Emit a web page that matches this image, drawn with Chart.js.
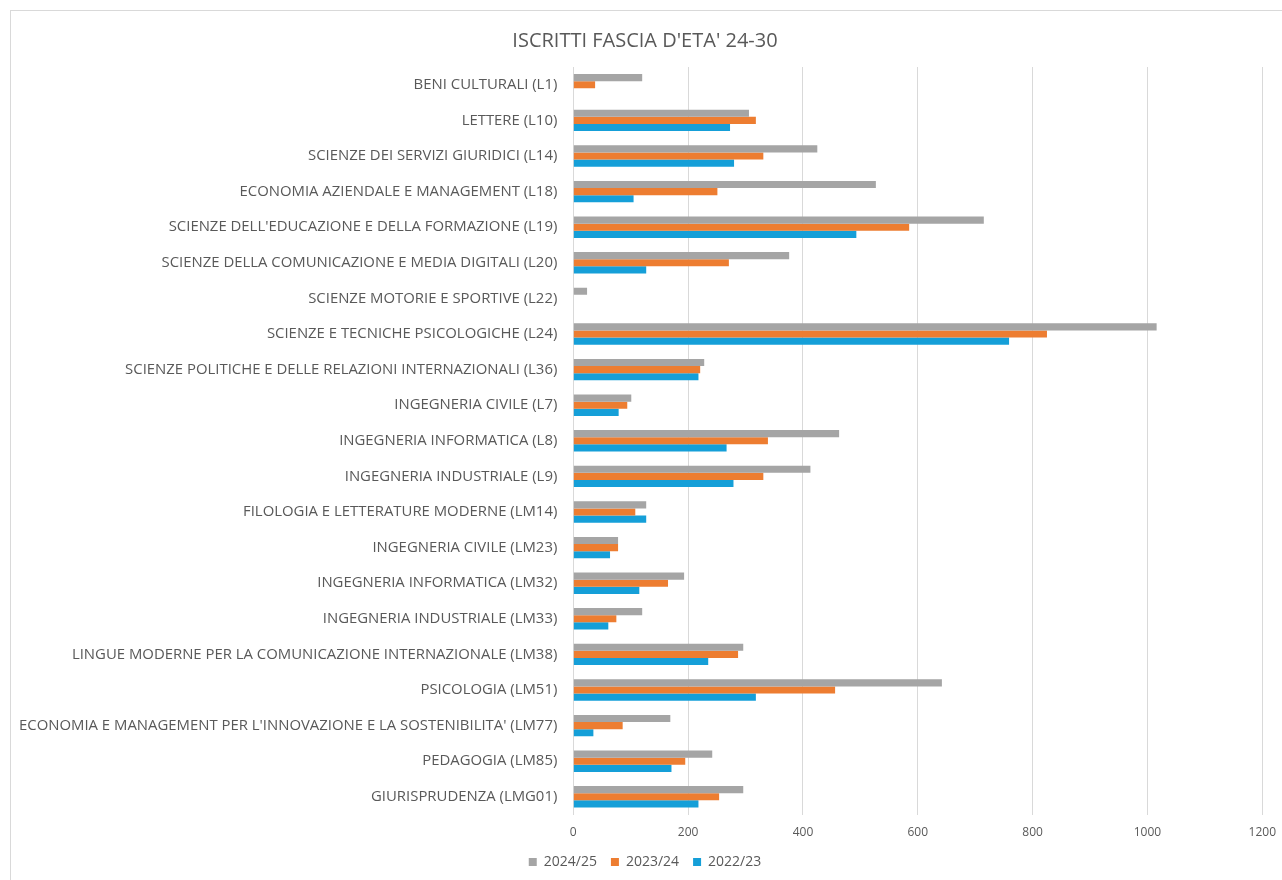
<!DOCTYPE html>
<html>
<head>
<meta charset="utf-8">
<script src="https://cdn.jsdelivr.net/npm/chart.js@4.4.1/dist/chart.umd.min.js"></script>
<style>
  html, body { margin: 0; padding: 0; background: #fff; overflow: hidden; }
  #frame {
    position: absolute; left: 10px; top: 10px;
    width: 1280px; height: 880px;
    border: 1px solid #d9d9d9; box-sizing: border-box;
  }
  #wrap { position: absolute; left: -8px; top: 0; width: 1284px; height: 869px; }
</style>
</head>
<body>
<div id="frame"><div id="wrap"><canvas id="chart"></canvas></div></div>
<script>
const courses = [
  "BENI CULTURALI (L1)",
  "LETTERE (L10)",
  "SCIENZE DEI SERVIZI GIURIDICI (L14)",
  "ECONOMIA AZIENDALE E MANAGEMENT (L18)",
  "SCIENZE DELL'EDUCAZIONE E DELLA FORMAZIONE (L19)",
  "SCIENZE DELLA COMUNICAZIONE E MEDIA DIGITALI (L20)",
  "SCIENZE MOTORIE E SPORTIVE (L22)",
  "SCIENZE E TECNICHE PSICOLOGICHE (L24)",
  "SCIENZE POLITICHE E DELLE RELAZIONI INTERNAZIONALI (L36)",
  "INGEGNERIA CIVILE (L7)",
  "INGEGNERIA INFORMATICA (L8)",
  "INGEGNERIA INDUSTRIALE (L9)",
  "FILOLOGIA E LETTERATURE MODERNE (LM14)",
  "INGEGNERIA CIVILE (LM23)",
  "INGEGNERIA INFORMATICA (LM32)",
  "INGEGNERIA INDUSTRIALE (LM33)",
  "LINGUE MODERNE PER LA COMUNICAZIONE INTERNAZIONALE (LM38)",
  "PSICOLOGIA (LM51)",
  "ECONOMIA E MANAGEMENT PER L'INNOVAZIONE E LA SOSTENIBILITA' (LM77)",
  "PEDAGOGIA (LM85)",
  "GIURISPRUDENZA (LMG01)"
];

const y2024 = [120, 306, 425, 527, 715, 376, 24, 1016, 228, 101, 463, 413, 127, 78, 193, 120, 296, 642, 169, 242, 296];
const y2023 = [38, 318, 331, 251, 585, 271, 0, 825, 221, 94, 339, 331, 108, 78, 165, 75, 287, 456, 86, 195, 254];
const y2022 = [0, 273, 280, 105, 493, 127, 0, 759, 218, 79, 267, 279, 127, 64, 115, 61, 235, 318, 35, 171, 218];

const xTicks = [0, 200, 400, 600, 800, 1000, 1200];

const txt = '#595959';
const font = "'Open Sans', sans-serif";

// legend: wider gaps between items without making the box taller
const legendFit = {
  id: 'legendFit',
  beforeUpdate(chart) {
    const lg = chart.legend;
    if (!lg || lg._patched) return;
    const fit = lg.fit.bind(lg);
    lg.fit = function () { fit(); this.height -= 7; };
    lg._patched = true;
  }
};

new Chart(document.getElementById('chart'), {
  type: 'bar',
  data: {
    labels: courses,
    datasets: [
      { label: '2024/25', data: y2024, backgroundColor: '#a5a5a5' },
      { label: '2023/24', data: y2023, backgroundColor: '#ed7d31' },
      { label: '2022/23', data: y2022, backgroundColor: '#159fd8' }
    ]
  },
  plugins: [legendFit],
  options: {
    indexAxis: 'y',
    responsive: true,
    maintainAspectRatio: false,
    animation: false,
    categoryPercentage: 0.6,
    barPercentage: 1.0,
    layout: { padding: { left: 0, right: 0, top: 0, bottom: 8 } },
    plugins: {
      title: {
        display: true,
        text: "ISCRITTI FASCIA D'ETA' 24-30",
        color: txt,
        font: { family: font, size: 20, weight: 'normal' },
        padding: { top: 18, bottom: 14 }
      },
      legend: {
        position: 'bottom',
        labels: {
          color: txt,
          font: { family: font, size: 14 },
          boxWidth: 8, boxHeight: 8, padding: 14
        }
      },
      tooltip: { enabled: false }
    },
    scales: {
      x: {
        min: 0, max: 1200,
        afterBuildTicks: axis => { axis.ticks = xTicks.map(v => ({ value: v })); },
        afterFit: axis => { axis.height -= 10; },
        grid: { color: '#d9d9d9', drawTicks: false },
        border: { display: false },
        ticks: {
          color: txt, font: { family: font, size: 12 }, padding: 11,
          callback: v => String(v)
        }
      },
      y: {
        grid: { display: false, drawTicks: false },
        border: { display: false },
        ticks: { color: txt, font: { family: font, size: 14.9 }, padding: 16, autoSkip: false }
      }
    }
  }
});
</script>
</body>
</html>
